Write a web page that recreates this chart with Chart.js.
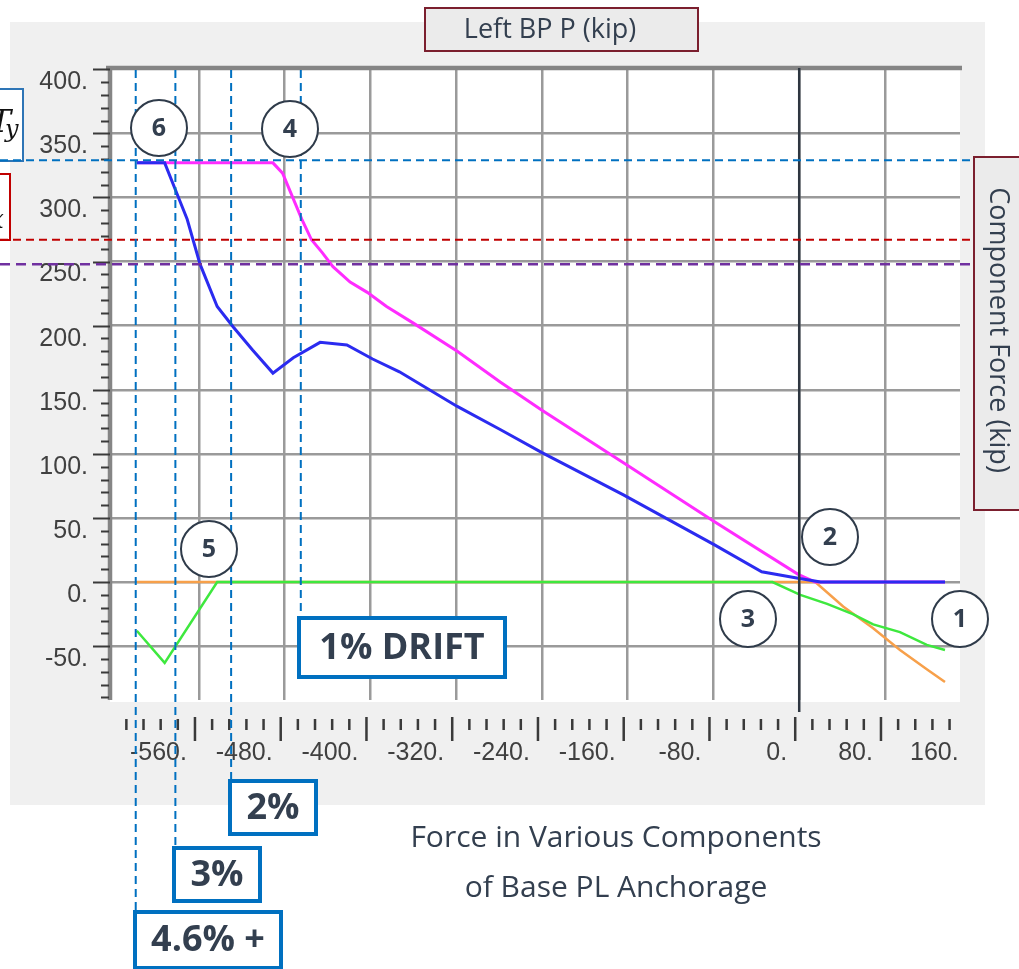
<!DOCTYPE html>
<html><head><meta charset="utf-8">
<script src="https://cdn.jsdelivr.net/npm/chart.js@4.4.0/dist/chart.umd.min.js"></script>
<style>html,body{margin:0;padding:0;background:#fff;overflow:hidden}canvas{display:block}</style>
</head><body>
<canvas id="c" width="1019" height="969"></canvas>
<script>
// ---- data ----
const xTickValues = [-560, -480, -400, -320, -240, -160, -80, 0, 80, 160];
const yTickValues = [-50, 0, 50, 100, 150, 200, 250, 300, 350, 400];

const blueX = [-618, -592, -582, -571, -559, -543, -528, -510, -491, -472, -447, -422, -398, -373, -319, -279, -240, -164, -79, -35, -1, 20, 136];
const blueY = [327, 327, 306, 283, 248, 215, 199, 181, 163, 175, 187, 185, 174, 164, 137, 119, 101, 68, 29, 8, 3, 0, 0];

const magentaX = [-618, -491, -482, -464, -455, -445, -435, -419, -403, -385, -360, -319, -279, -240, -164, -79, -1, 15, 136];
const magentaY = [327, 327, 319, 283, 267, 257, 246, 234, 226, 215, 202, 180, 156, 134, 93, 47, 6, 0, 0];

const greenX = [-618, -592, -543, -25, 1, 26, 50, 69, 94, 119, 136];
const greenY = [-38, -63, 0, 0, -10, -17, -25, -33, -39, -49, -53];

const orangeX = [-618, 15, 41, 69, 94, 119, 136];
const orangeY = [0, 0, -19, -36, -53, -68, -78];

const tyLevel = 329;      // blue dashed horizontal
const redLevel = 267;     // red dashed horizontal
const purpleLevel = 248;  // purple dashed horizontal
const driftX = [-619, -582, -530, -465]; // 4.6%, 3%, 2%, 1% drift markers
const cursorX = 0;

const mk = (xs, ys) => xs.map((x, i) => ({x: x, y: ys[i]}));

const TXT = '#333f4f';

function circle(ctx, x, y, label) {
  ctx.save();
  ctx.beginPath();
  ctx.arc(x, y, 28, 0, Math.PI * 2);
  ctx.fillStyle = '#fff';
  ctx.fill();
  ctx.lineWidth = 2;
  ctx.strokeStyle = '#2f3b4a';
  ctx.stroke();
  ctx.fillStyle = TXT;
  ctx.font = 'bold 25px "Open Sans"';
  ctx.textAlign = 'center';
  ctx.textBaseline = 'middle';
  ctx.fillText(label, x, y + 1);
  ctx.restore();
}
function box(ctx, x, y, w, h, label) {
  ctx.save();
  ctx.fillStyle = '#fff';
  ctx.fillRect(x, y, w, h);
  ctx.lineWidth = 4;
  ctx.strokeStyle = '#0070c0';
  ctx.strokeRect(x, y, w, h);
  ctx.fillStyle = TXT;
  ctx.font = 'bold 36px "Open Sans"';
  ctx.textAlign = 'center';
  ctx.textBaseline = 'middle';
  ctx.fillText(label, x + w / 2, y + h / 2 + 1);
  ctx.restore();
}

const bgPlugin = {
  id: 'bg',
  beforeDraw(chart) {
    const ctx = chart.ctx, a = chart.chartArea;
    ctx.save();
    ctx.fillStyle = '#ffffff';
    ctx.fillRect(0, 0, chart.width, chart.height);
    ctx.fillStyle = '#f0f0f0';
    ctx.fillRect(10, 22, 975, 783);
    ctx.fillStyle = '#ffffff';
    ctx.fillRect(a.left, a.top, a.right - a.left, a.bottom - a.top + 2);
    ctx.restore();
  }
};

const overlayPlugin = {
  id: 'overlay',
  afterDraw(chart) {
    const ctx = chart.ctx, a = chart.chartArea;
    const xs = chart.scales.x, ys = chart.scales.y;
    ctx.save();
    // frame
    ctx.strokeStyle = '#858585';
    ctx.lineWidth = 4.5;
    ctx.beginPath();
    ctx.moveTo(a.left - 4, a.top); ctx.lineTo(a.right + 2, a.top);
    ctx.moveTo(a.left, a.top); ctx.lineTo(a.left, a.bottom);
    ctx.stroke();
    // y tick marks
    ctx.strokeStyle = '#3a3a3a';
    ctx.lineWidth = 2;
    ctx.beginPath();
    for (let v = -90; v <= 400; v += 10) {
      const y = Math.round(ys.getPixelForValue(v)) + 0.5;
      if (v % 50 === 0) { ctx.moveTo(93, y); ctx.lineTo(a.left, y); }
      else { ctx.moveTo(101, y); ctx.lineTo(a.left - 1, y); }
    }
    ctx.stroke();
    // x tick strip
    ctx.lineWidth = 2.5;
    ctx.beginPath();
    for (let v = -624; v <= 144; v += 16) {
      const x = xs.getPixelForValue(v) - 4;
      if (v % 80 === 0) { ctx.moveTo(x, 717); ctx.lineTo(x, 741); }
      else { ctx.moveTo(x, 719); ctx.lineTo(x, 730); }
    }
    ctx.stroke();
    // cursor line
    const cx = xs.getPixelForValue(cursorX);
    ctx.strokeStyle = '#2e3640';
    ctx.lineWidth = 2.5;
    ctx.beginPath(); ctx.moveTo(cx, a.top); ctx.lineTo(cx, 712); ctx.stroke();

    // left label boxes
    ctx.fillStyle = '#fff';
    ctx.fillRect(-5, 89, 28, 72);
    ctx.lineWidth = 2; ctx.strokeStyle = '#2e75b6';
    ctx.strokeRect(-5, 89, 28, 72);
    ctx.fillStyle = '#111';
    ctx.font = 'italic 32px "DejaVu Serif"';
    ctx.textAlign = 'right'; ctx.textBaseline = 'alphabetic';
    ctx.fillText('T', 11, 132);
    ctx.font = 'italic 24px "DejaVu Serif"';
    ctx.textAlign = 'left';
    ctx.fillText('y', 5, 137);
    ctx.fillStyle = '#fff';
    ctx.fillRect(-5, 174, 15, 66);
    ctx.strokeStyle = '#c00000';
    ctx.strokeRect(-5, 174, 15, 66);
    ctx.fillStyle = '#111';
    ctx.font = 'italic 26px "DejaVu Serif"';
    ctx.textAlign = 'right';
    ctx.fillText('x', 4, 228);

    // horizontal dashed lines
    const hline = (val, color, w, dash, x1) => {
      const y = ys.getPixelForValue(val);
      ctx.strokeStyle = color; ctx.lineWidth = w; ctx.setLineDash(dash);
      ctx.beginPath(); ctx.moveTo(0, y); ctx.lineTo(x1, y); ctx.stroke();
    };
    hline(tyLevel, '#0070c0', 2, [8, 5], 970);
    hline(redLevel, '#c00000', 2, [8, 5], 972);
    hline(purpleLevel, '#7030a0', 2.5, [10, 6], 974);
    // vertical drift dashed lines
    const ends = [910, 846, 779, 616];
    ctx.strokeStyle = '#0070c0'; ctx.lineWidth = 2; ctx.setLineDash([8, 5]);
    driftX.forEach((v, i) => {
      const x = xs.getPixelForValue(v);
      ctx.beginPath(); ctx.moveTo(x, a.top + 2); ctx.lineTo(x, ends[i]); ctx.stroke();
    });
    ctx.setLineDash([]);

    // title box
    ctx.fillStyle = '#ebebeb';
    ctx.fillRect(425, 8, 273, 43);
    ctx.strokeStyle = '#7b1f2e'; ctx.lineWidth = 2;
    ctx.strokeRect(425, 8, 273, 43);
    ctx.fillStyle = TXT;
    ctx.font = '27px "Open Sans"';
    ctx.textAlign = 'center'; ctx.textBaseline = 'middle';
    ctx.fillText('Left BP P (kip)', 550, 30);
    // right axis title box
    ctx.fillStyle = '#ebebeb';
    ctx.fillRect(974, 157, 60, 353);
    ctx.strokeRect(974, 157, 60, 353);
    ctx.save();
    ctx.translate(998, 330);
    ctx.rotate(Math.PI / 2);
    ctx.fillStyle = TXT;
    ctx.font = '27px "Open Sans"';
    ctx.fillText('Component Force (kip)', 0, 0);
    ctx.restore();

    // circles
    circle(ctx, 159, 128, '6');
    circle(ctx, 290, 129, '4');
    circle(ctx, 209, 549, '5');
    circle(ctx, 830, 537, '2');
    circle(ctx, 748, 619, '3');
    circle(ctx, 960, 619, '1');

    // drift boxes
    box(ctx, 299, 618, 206, 59, '1% DRIFT');
    box(ctx, 230, 781, 86, 53, '2%');
    box(ctx, 174, 848, 86, 53, '3%');
    box(ctx, 135, 912, 146, 56, '4.6% +');

    // caption
    ctx.fillStyle = TXT;
    ctx.font = '30px "Open Sans"';
    ctx.textAlign = 'center'; ctx.textBaseline = 'middle';
    ctx.fillText('Force in Various Components', 616, 838);
    ctx.fillText('of Base PL Anchorage', 616, 888);
    ctx.restore();
  }
};

const ds = (label, xs, ys, color, w) => ({
  label: label, data: mk(xs, ys), borderColor: color, backgroundColor: color,
  borderWidth: w, pointRadius: 0, tension: 0, fill: false
});

new Chart(document.getElementById('c').getContext('2d'), {
  type: 'line',
  data: {
    datasets: [
      ds('Blue', blueX, blueY, '#2b2bf0', 3),
      ds('Magenta', magentaX, magentaY, '#ff2cff', 3),
      ds('Green', greenX, greenY, '#3ee83e', 2.5),
      ds('Orange', orangeX, orangeY, '#f7a04a', 2.5)
    ]
  },
  options: {
    responsive: false, animation: false, devicePixelRatio: 1,
    layout: {padding: {left: 0, top: 68, right: 59, bottom: 0}},
    plugins: {legend: {display: false}, tooltip: {enabled: false}},
    scales: {
      x: {
        type: 'linear', min: -643, max: 150, bounds: 'data',
        afterBuildTicks: s => { s.ticks = xTickValues.map(v => ({value: v})); },
        afterFit: s => { s.height = 269; },
        grid: {color: c => (c.tick && c.tick.value > 150) ? 'rgba(0,0,0,0)' : '#9a9a9a', lineWidth: 2.5, drawTicks: false},
        border: {display: false},
        ticks: {autoSkip: false, maxRotation: 0, minRotation: 0, align: 'end', labelOffset: -12, padding: 38,
                font: {family: 'Liberation Sans', size: 25}, color: '#404040', callback: v => v + '.'}
      },
      y: {
        type: 'linear', min: -92, max: 401, bounds: 'data',
        afterBuildTicks: s => { s.ticks = yTickValues.map(v => ({value: v})); },
        afterFit: s => { s.width = 110; },
        grid: {color: c => (c.tick && c.tick.value >= 400) ? 'rgba(0,0,0,0)' : '#9a9a9a', lineWidth: 2.5, drawTicks: false},
        border: {display: false},
        ticks: {autoSkip: false, labelOffset: 13, padding: 22,
                font: {family: 'Liberation Sans', size: 25}, color: '#404040', callback: v => v + '.'}
      }
    }
  },
  plugins: [bgPlugin, overlayPlugin]
});
</script>
</body></html>
